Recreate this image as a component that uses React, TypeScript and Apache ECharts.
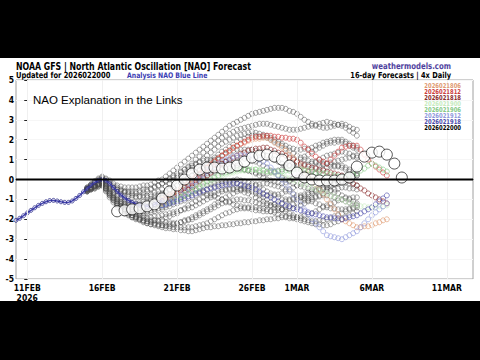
import React, { useEffect, useRef } from 'react';
import * as echarts from 'echarts';

// ---- axis ticks ----
const tickDays = [0, 5, 10, 15, 18, 23, 28];
const tickLabels = ['11FEB\n2026', '16FEB', '21FEB', '26FEB', '1MAR', '6MAR', '11MAR'];

// ---- analysis (6-hourly from day -0.75) ----
const analysisStart = -0.75;
const analysis = [
  -2.05, -1.95, -1.82, -1.68, -1.55, -1.42, -1.3, -1.2, -1.12, -1.06, -1.05, -1.08, -1.12, -1.15, -1.15, -1.08,
  -0.95, -0.8, -0.62, -0.45, -0.3, -0.15, -0.05, 0.0, -0.05, -0.2, -0.4, -0.6, -0.78, -0.92, -1.05, -1.15,
  -1.22, -1.28, -1.32, -1.35, -1.33, -1.25, -1.15, -1.05,
];

// ---- current run mean (12-hourly from day 6) ----
const meanStart = 6;
const meanRun = [
  -1.6, -1.55, -1.5, -1.45, -1.35, -1.25, -0.95, -0.6, -0.3, 0.0, 0.3, 0.5, 0.6, 0.6, 0.55, 0.6, 0.7, 0.9, 1.1,
  1.2, 1.25, 1.15, 1.0, 0.7, 0.35, 0.1, 0.0, -0.05, -0.05, -0.05, 0.0, 0.1, 0.65, 1.15, 1.35, 1.4, 1.25, 0.8, 0.1,
];

// ---- members (6-hourly from day 4) ----
const memberStart = 4;
const memberA = [
  -0.4, -0.25, -0.1, 0.0, 0.1, 0.05, -0.05, -0.2, -0.3, -0.35, -0.4, -0.4, -0.4, -0.4, -0.35, -0.3,
  -0.3, -0.25, -0.15, -0.05, 0.0, 0.15, 0.3, 0.45, 0.6, 0.75, 0.9, 1.05, 1.2, 1.35, 1.5, 1.65,
  1.8, 1.95, 2.1, 2.25, 2.4, 2.55, 2.7, 2.8, 2.9, 3.0, 3.1, 3.2, 3.3, 3.35, 3.4, 3.45,
  3.5, 3.55, 3.6, 3.6, 3.6, 3.55, 3.45, 3.4, 3.3, 3.15, 3.0, 2.9, 2.8, 2.7, 2.65, 2.6,
  2.6, 2.65, 2.7, 2.75, 2.8, 2.75, 2.65, 2.55, 2.5,
];
const memberB = [
  -0.45, -0.3, -0.15, -0.05, 0.0, -0.1, -0.25, -0.4, -0.5, -0.55, -0.6, -0.6, -0.6, -0.6, -0.55, -0.5,
  -0.5, -0.45, -0.35, -0.3, -0.2, -0.1, 0.0, 0.1, 0.2, 0.35, 0.5, 0.65, 0.8, 1.0, 1.15, 1.35,
  1.5, 1.65, 1.8, 1.95, 2.1, 2.2, 2.3, 2.4, 2.5, 2.55, 2.6, 2.65, 2.7, 2.75, 2.8, 2.8,
  2.8, 2.75, 2.7, 2.65, 2.6, 2.55, 2.5, 2.5, 2.5, 2.55, 2.6, 2.65, 2.7, 2.75, 2.8, 2.85,
  2.9, 2.85, 2.8, 2.75, 2.7, 2.6, 2.45, 2.35, 2.2,
];
const memberC = [
  -0.5, -0.4, -0.25, -0.15, -0.05, -0.2, -0.35, -0.5, -0.6, -0.7, -0.8, -0.85, -0.9, -0.9, -0.85, -0.8,
  -0.8, -0.75, -0.65, -0.6, -0.5, -0.35, -0.2, -0.05, 0.1, 0.2, 0.35, 0.5, 0.6, 0.75, 0.9, 1.05,
  1.2, 1.35, 1.5, 1.65, 1.8, 1.9, 2.0, 2.1, 2.2, 2.25, 2.3, 2.35, 2.4, 2.35, 2.3, 2.25,
  2.2, 2.1, 2.0, 1.9, 1.8, 1.7, 1.6, 1.55, 1.5, 1.5, 1.55, 1.55, 1.6, 1.7, 1.75, 1.85,
  1.9, 1.95, 2.0, 2.0, 2.0, 1.9, 1.8, 1.7, 1.6,
];
const memberD = [
  -0.5, -0.4, -0.3, -0.2, -0.1, -0.3, -0.45, -0.65, -0.8, -0.9, -1.0, -1.1, -1.2, -1.2, -1.15, -1.1,
  -1.1, -1.0, -0.95, -0.85, -0.8, -0.65, -0.55, -0.4, -0.3, -0.15, -0.05, 0.1, 0.2, 0.35, 0.45, 0.6,
  0.7, 0.85, 0.95, 1.1, 1.2, 1.3, 1.35, 1.45, 1.5, 1.5, 1.5, 1.5, 1.5, 1.45, 1.35, 1.3,
  1.2, 1.1, 1.0, 0.9, 0.8, 0.75, 0.7, 0.65, 0.6, 0.65, 0.7, 0.75, 0.8, 0.9, 1.0, 1.1,
  1.2, 1.25, 1.3, 1.35, 1.4, 1.35, 1.3, 1.2, 1.1,
];
const memberE = [
  -0.45, -0.35, -0.3, -0.2, -0.15, -0.35, -0.6, -0.8, -1.0, -1.1, -1.2, -1.3, -1.4, -1.4, -1.4, -1.4,
  -1.4, -1.35, -1.3, -1.25, -1.2, -1.1, -1.0, -0.9, -0.8, -0.65, -0.55, -0.4, -0.3, -0.15, -0.05, 0.1,
  0.2, 0.3, 0.35, 0.45, 0.5, 0.55, 0.55, 0.6, 0.6, 0.55, 0.5, 0.45, 0.4, 0.3, 0.2, 0.1,
  0.0, -0.05, -0.1, -0.15, -0.2, -0.15, -0.05, 0.05, 0.1, 0.2, 0.3, 0.4, 0.5, 0.6, 0.7, 0.75,
  0.8, 0.75, 0.7, 0.65, 0.6, 0.5, 0.4, 0.3, 0.2,
];
const memberF = [
  -0.5, -0.45, -0.35, -0.25, -0.2, -0.45, -0.7, -0.9, -1.1, -1.25, -1.4, -1.5, -1.6, -1.65, -1.7, -1.7,
  -1.7, -1.65, -1.6, -1.55, -1.5, -1.4, -1.35, -1.25, -1.2, -1.1, -1.05, -0.95, -0.9, -0.8, -0.7, -0.6,
  -0.5, -0.4, -0.35, -0.25, -0.2, -0.15, -0.1, -0.05, 0.0, -0.05, -0.1, -0.15, -0.2, -0.3, -0.4, -0.5,
  -0.6, -0.7, -0.8, -0.9, -1.0, -1.0, -1.0, -1.0, -1.0, -0.9, -0.85, -0.75, -0.7, -0.6, -0.5, -0.4,
  -0.3, -0.25, -0.2, -0.15, -0.1, -0.15, -0.2, -0.25, -0.3,
];
const memberG = [
  -0.55, -0.45, -0.35, -0.25, -0.2, -0.45, -0.75, -1.0, -1.2, -1.35, -1.5, -1.6, -1.7, -1.75, -1.8, -1.85,
  -1.9, -1.9, -1.85, -1.85, -1.8, -1.75, -1.7, -1.65, -1.6, -1.55, -1.5, -1.45, -1.4, -1.3, -1.2, -1.1,
  -1.0, -0.9, -0.8, -0.7, -0.6, -0.55, -0.5, -0.5, -0.5, -0.55, -0.65, -0.7, -0.8, -0.9, -1.0, -1.1,
  -1.2, -1.3, -1.4, -1.45, -1.5, -1.5, -1.45, -1.45, -1.4, -1.3, -1.2, -1.1, -1.0, -0.9, -0.8, -0.7,
  -0.6, -0.55, -0.5, -0.45, -0.4, -0.4, -0.45, -0.45, -0.5,
];
const memberH = [
  -0.6, -0.5, -0.45, -0.35, -0.3, -0.55, -0.8, -1.05, -1.3, -1.45, -1.55, -1.7, -1.8, -1.85, -1.9, -1.95,
  -2.0, -2.05, -2.05, -2.1, -2.1, -2.15, -2.15, -2.2, -2.2, -2.15, -2.1, -2.05, -2.0, -1.9, -1.8, -1.7,
  -1.6, -1.5, -1.4, -1.3, -1.2, -1.15, -1.1, -1.05, -1.0, -1.0, -1.05, -1.05, -1.1, -1.15, -1.2, -1.25,
  -1.3, -1.3, -1.25, -1.25, -1.2, -1.1, -1.05, -0.95, -0.9, -0.8, -0.75, -0.65, -0.6, -0.55, -0.55, -0.5,
  -0.5, -0.55, -0.65, -0.7, -0.8, -0.9, -1.0, -1.1, -1.2,
];
const memberI = [
  -0.6, -0.5, -0.45, -0.35, -0.3, -0.6, -0.9, -1.15, -1.4, -1.55, -1.7, -1.8, -1.9, -1.95, -2.0, -2.05,
  -2.1, -2.15, -2.2, -2.25, -2.3, -2.35, -2.35, -2.4, -2.4, -2.4, -2.4, -2.4, -2.4, -2.35, -2.3, -2.25,
  -2.2, -2.1, -2.0, -1.9, -1.8, -1.7, -1.65, -1.55, -1.5, -1.45, -1.45, -1.4, -1.4, -1.4, -1.45, -1.45,
  -1.5, -1.6, -1.65, -1.75, -1.8, -1.85, -1.85, -1.9, -1.9, -1.85, -1.8, -1.75, -1.7, -1.6, -1.5, -1.4,
  -1.3, -1.2, -1.15, -1.05, -1.0, -0.95, -0.95, -0.9, -0.9,
];
const memberJ = [
  -0.55, -0.45, -0.35, -0.25, -0.2, -0.45, -0.7, -0.95, -1.2, -1.35, -1.5, -1.65, -1.8, -1.9, -2.0, -2.1,
  -2.2, -2.25, -2.3, -2.35, -2.4, -2.45, -2.45, -2.5, -2.5, -2.55, -2.55, -2.6, -2.6, -2.55, -2.5, -2.45,
  -2.4, -2.4, -2.35, -2.35, -2.3, -2.3, -2.25, -2.25, -2.2, -2.2, -2.15, -2.15, -2.1, -2.1, -2.05, -2.05,
  -2.0, -2.0, -1.95, -1.95, -1.9, -1.9, -1.95, -1.95, -2.0, -2.05, -2.1, -2.15, -2.2, -2.25, -2.25, -2.3,
  -2.3, -2.25, -2.15, -2.1, -2.0, -1.9, -1.8, -1.7, -1.6,
];
const memberK = [
  -0.5, -0.4, -0.3, -0.2, -0.1, -0.3, -0.5, -0.7, -0.9, -1.0, -1.1, -1.2, -1.3, -1.3, -1.25, -1.25,
  -1.2, -1.1, -1.05, -0.95, -0.9, -0.8, -0.75, -0.65, -0.6, -0.55, -0.55, -0.5, -0.5, -0.55, -0.6, -0.65,
  -0.7, -0.8, -0.85, -0.95, -1.0, -1.1, -1.15, -1.25, -1.3, -1.35, -1.4, -1.45, -1.5, -1.55, -1.55, -1.6,
  -1.6, -1.6, -1.55, -1.55, -1.5, -1.4, -1.35, -1.25, -1.2, -1.1, -1.05, -0.95, -0.9, -0.85, -0.85, -0.8,
  -0.8, -0.85, -0.9, -0.95, -1.0, -1.1, -1.15, -1.25, -1.3,
];
const memberL = [
  -0.4, -0.25, -0.1, 0.05, 0.15, 0.0, -0.15, -0.3, -0.4, -0.5, -0.6, -0.65, -0.7, -0.7, -0.65, -0.65,
  -0.6, -0.5, -0.4, -0.3, -0.2, -0.05, 0.05, 0.2, 0.3, 0.4, 0.5, 0.6, 0.7, 0.8, 0.85, 0.95,
  1.0, 1.0, 1.0, 1.0, 1.0, 0.9, 0.85, 0.75, 0.7, 0.6, 0.5, 0.45, 0.4, 0.35, 0.35, 0.3,
  0.3, 0.35, 0.4, 0.45, 0.5, 0.6, 0.7, 0.8, 0.9, 1.0, 1.15, 1.25, 1.4, 1.5, 1.6, 1.7,
  1.8, 1.85, 1.85, 1.9, 1.9, 1.8, 1.7, 1.6, 1.5,
];
const memberN = [
  -0.5, -0.4, -0.3, -0.2, -0.1, -0.35, -0.6, -0.8, -1.0, -1.15, -1.25, -1.4, -1.5, -1.55, -1.55, -1.6,
  -1.6, -1.55, -1.5, -1.45, -1.4, -1.3, -1.2, -1.1, -1.0, -0.9, -0.8, -0.7, -0.6, -0.5, -0.45, -0.35,
  -0.3, -0.25, -0.2, -0.15, -0.1, -0.1, -0.15, -0.15, -0.2, -0.3, -0.35, -0.45, -0.5, -0.6, -0.7, -0.75,
  -0.8, -0.8, -0.75, -0.75, -0.7, -0.6, -0.5, -0.4, -0.3, -0.2, -0.05, 0.1, 0.2, 0.3, 0.4, 0.5,
  0.6, 0.65, 0.65, 0.7, 0.7, 0.6, 0.5, 0.4, 0.3,
];
const memberO = [
  -0.45, -0.3, -0.2, -0.05, 0.05, -0.1, -0.25, -0.4, -0.5, -0.6, -0.65, -0.75, -0.8, -0.85, -0.85, -0.9,
  -0.9, -0.85, -0.8, -0.75, -0.7, -0.6, -0.5, -0.4, -0.3, -0.15, -0.05, 0.1, 0.2, 0.35, 0.5, 0.65,
  0.8, 0.95, 1.1, 1.25, 1.4, 1.5, 1.65, 1.75, 1.9, 2.0, 2.05, 2.15, 2.2, 2.2, 2.15, 2.15,
  2.1, 2.0, 1.9, 1.8, 1.7, 1.55, 1.45, 1.3, 1.2, 1.1, 1.0, 0.95, 0.9, 0.85, 0.85, 0.8,
  0.8, 0.85, 0.9, 0.95, 1.0, 1.05, 1.1, 1.15, 1.2,
];
const memberP = [
  -0.6, -0.5, -0.4, -0.3, -0.25, -0.5, -0.8, -1.05, -1.3, -1.45, -1.6, -1.75, -1.9, -2.0, -2.05, -2.15,
  -2.2, -2.25, -2.25, -2.3, -2.3, -2.3, -2.25, -2.25, -2.2, -2.15, -2.05, -2.0, -1.9, -1.8, -1.7, -1.6,
  -1.5, -1.4, -1.25, -1.15, -1.0, -0.9, -0.8, -0.7, -0.6, -0.5, -0.45, -0.35, -0.3, -0.25, -0.25, -0.2,
  -0.2, -0.25, -0.3, -0.35, -0.4, -0.5, -0.6, -0.7, -0.8, -0.9, -0.95, -1.05, -1.1, -1.2, -1.25, -1.35,
  -1.4, -1.45, -1.45, -1.5, -1.5, -1.5, -1.45, -1.45, -1.4,
];
const memberQ = [
  -0.5, -0.4, -0.3, -0.25, -0.15, -0.4, -0.65, -0.9, -1.1, -1.2, -1.3, -1.4, -1.5, -1.5, -1.45, -1.45,
  -1.4, -1.35, -1.25, -1.2, -1.1, -1.0, -0.9, -0.8, -0.7, -0.55, -0.45, -0.3, -0.2, -0.05, 0.05, 0.2,
  0.3, 0.45, 0.55, 0.7, 0.8, 0.9, 0.95, 1.05, 1.1, 1.1, 1.05, 1.05, 1.0, 0.9, 0.8, 0.7,
  0.6, 0.45, 0.35, 0.2, 0.1, 0.0, -0.1, -0.2, -0.3, -0.35, -0.4, -0.45, -0.5, -0.5, -0.45, -0.45,
  -0.4, -0.35, -0.25, -0.2, -0.1, 0.0, 0.05, 0.15, 0.2,
];
const memberR = [
  -0.55, -0.45, -0.35, -0.25, -0.2, -0.45, -0.7, -0.95, -1.2, -1.35, -1.5, -1.65, -1.8, -1.9, -1.95, -2.05,
  -2.1, -2.1, -2.05, -2.05, -2.0, -1.9, -1.85, -1.75, -1.7, -1.55, -1.45, -1.3, -1.2, -1.1, -1.0, -0.9,
  -0.8, -0.7, -0.65, -0.55, -0.5, -0.5, -0.45, -0.45, -0.4, -0.45, -0.5, -0.55, -0.6, -0.7, -0.8, -0.9,
  -1.0, -1.15, -1.25, -1.4, -1.5, -1.6, -1.7, -1.8, -1.9, -1.95, -2.0, -2.05, -2.1, -2.1, -2.05, -2.05,
  -2.0, -1.95, -1.85, -1.8, -1.7, -1.6, -1.5, -1.4, -1.3,
];
const members = [
  memberA, memberB, memberC, memberD, memberE, memberF, memberG, memberH, memberI,
  memberJ, memberK, memberL, memberN, memberO, memberP, memberQ, memberR,
];

// ---- previous runs (6-hourly from day 9) ----
const runStart = 9;
const run021806 = [
  -1.0, -0.9, -0.8, -0.7, -0.6, -0.45, -0.3, -0.15, 0.0, 0.15, 0.3, 0.45, 0.6, 0.75, 0.9, 1.05,
  1.2, 1.35, 1.45, 1.6, 1.7, 1.8, 1.85, 1.95, 2.0, 2.05, 2.05, 2.1, 2.1, 2.0, 1.85, 1.75,
  1.6, 1.45, 1.25, 1.1, 0.9, 0.7, 0.45, 0.25, 0.0, -0.25, -0.5, -0.75, -1.0, -1.25, -1.5, -1.75,
  -2.0, -2.1, -2.2, -2.3, -2.4, -2.4, -2.35, -2.35, -2.3, -2.2, -2.15, -2.05, -2.0,
];
const run021812 = [
  -1.1, -1.0, -0.9, -0.8, -0.7, -0.55, -0.4, -0.25, -0.1, 0.1, 0.25, 0.45, 0.6, 0.75, 0.9, 1.05,
  1.2, 1.35, 1.45, 1.6, 1.7, 1.8, 1.9, 2.0, 2.1, 2.15, 2.15, 2.2, 2.2, 2.2, 2.15, 2.15,
  2.1, 2.1, 2.05, 2.05, 2.0, 1.85, 1.65, 1.5, 1.3, 1.15, 1.0, 0.9, 0.8, 1.0, 1.2, 1.4,
  1.6, 1.65, 1.7, 1.7, 1.7, 1.5, 1.25, 1.0, 0.8, 0.65, 0.5, 0.35, 0.2,
];
const run021818 = [
  -1.2, -1.1, -1.05, -0.95, -0.9, -0.75, -0.65, -0.5, -0.4, -0.25, -0.1, 0.05, 0.2, 0.35, 0.5, 0.65,
  0.8, 0.9, 1.0, 1.1, 1.2, 1.3, 1.35, 1.45, 1.5, 1.55, 1.55, 1.6, 1.6, 1.5, 1.45, 1.35,
  1.3, 1.2, 1.1, 1.0, 0.9, 0.8, 0.75, 0.65, 0.6, 0.55, 0.5, 0.45, 0.4, 0.35, 0.3, 0.25,
  0.2, 0.05, -0.05, -0.2, -0.3, -0.45, -0.55, -0.7, -0.8, -0.9, -1.0, -1.1, -1.2,
];
const run021900 = [
  -1.2, -1.1, -1.05, -0.95, -0.9, -0.8, -0.75, -0.65, -0.6, -0.5, -0.4, -0.3, -0.2, -0.1, 0.0, 0.1,
  0.2, 0.25, 0.3, 0.35, 0.4, 0.45, 0.45, 0.5, 0.5, 0.5, 0.45, 0.45, 0.4, 0.35, 0.3, 0.25,
  0.2, 0.1, 0.05, -0.05, -0.1, -0.2, -0.25, -0.35, -0.4, -0.5, -0.55, -0.65, -0.7, -0.8, -0.85, -0.95,
  -1.0, -1.1, -1.15, -1.25, -1.3, -1.35, -1.35, -1.4, -1.4, -1.4, -1.35, -1.35, -1.3,
];
const run021906 = [
  -1.3, -1.2, -1.15, -1.05, -1.0, -0.9, -0.8, -0.7, -0.6, -0.45, -0.35, -0.2, -0.1, 0.0, 0.1, 0.2,
  0.3, 0.35, 0.4, 0.45, 0.5, 0.5, 0.5, 0.5, 0.5, 0.5, 0.45, 0.45, 0.4, 0.4, 0.4, 0.4,
  0.4, 0.45, 0.45, 0.5, 0.5, 0.5, 0.45, 0.45, 0.4, 0.35, 0.35, 0.3, 0.3, 0.25, 0.2, 0.15,
  0.1, 0.15, 0.2, 0.25, 0.3, 0.45, 0.55, 0.7, 0.8, 0.7, 0.6, 0.5, 0.4,
];
const run021912 = [
  -1.3, -1.2, -1.1, -1.0, -0.9, -0.75, -0.6, -0.45, -0.3, -0.1, 0.05, 0.25, 0.4, 0.55, 0.65, 0.8,
  0.9, 1.0, 1.05, 1.15, 1.2, 1.2, 1.2, 1.2, 1.2, 1.1, 1.0, 0.9, 0.8, 0.6, 0.4, 0.2,
  0.0, -0.25, -0.5, -0.75, -1.0, -1.25, -1.5, -1.75, -2.0, -2.2, -2.4, -2.6, -2.8, -2.85, -2.9, -2.95,
  -3.0, -2.9, -2.8, -2.7, -2.6, -2.4, -2.2, -2.0, -1.8, -1.65, -1.5, -1.35, -1.2,
];
const run021918 = [
  -1.3, -1.25, -1.2, -1.15, -1.1, -1.0, -0.95, -0.85, -0.8, -0.7, -0.65, -0.55, -0.5, -0.45, -0.4, -0.35,
  -0.3, -0.25, -0.25, -0.2, -0.2, -0.25, -0.3, -0.35, -0.4, -0.5, -0.6, -0.7, -0.8, -0.9, -1.0, -1.1,
  -1.2, -1.3, -1.35, -1.45, -1.5, -1.55, -1.6, -1.65, -1.7, -1.75, -1.8, -1.85, -1.9, -1.9, -1.95, -1.95,
  -2.0, -1.95, -1.9, -1.85, -1.8, -1.7, -1.6, -1.5, -1.4, -1.25, -1.1, -0.95, -0.8,
];
const previousRuns = [run021806, run021812, run021818, run021900, run021906, run021912, run021918];
const runLabels = ['2026021806', '2026021812', '2026021818', '2026021900', '2026021906', '2026021912', '2026021918', '2026022000'];
const runColors = ['#e09a72', '#cc3c3c', '#8a2a2a', '#c6ebbe', '#86c986', '#8f99dc', '#4b4bab', '#000000'];

const toPoints = (vals: number[], start: number, step: number) => vals.map((v, i) => [start + i * step, v]);

const COND = '"DejaVu Sans Condensed", "Liberation Sans Narrow", "DejaVu Sans", sans-serif';

export default function App() {
  const ref = useRef<HTMLDivElement>(null);
  useEffect(() => {
    if (!ref.current) return;
    const chart = echarts.init(ref.current, undefined, { renderer: 'svg' });
    const series: any[] = [];
    series.push({
      type: 'scatter', data: [], silent: true, z: 1,
      markLine: {
        silent: true, symbol: 'none', label: { show: false },
        lineStyle: { color: '#f0f0f0', width: 1, type: 'solid' },
        data: tickDays.map((d) => ({ xAxis: d })),
      },
    });
    members.forEach((m, i) => {
      series.push({
        type: 'scatter', name: 'member' + i, silent: true, z: 2,
        symbol: 'circle', symbolSize: 5,
        itemStyle: { color: 'rgba(255,255,255,0)', borderColor: '#474747', borderWidth: 0.6 },
        data: toPoints(m, memberStart, 0.25),
      });
    });
    previousRuns.forEach((r, i) => {
      series.push({
        type: 'scatter', name: runLabels[i], silent: true, z: 3,
        symbol: 'circle', symbolSize: 5,
        itemStyle: { color: 'rgba(255,255,255,0)', borderColor: runColors[i], borderWidth: 0.8 },
        data: toPoints(r, runStart, 0.25),
      });
    });
    series.push({
      type: 'line', name: 'analysis', silent: true, z: 4,
      symbol: 'circle', symbolSize: 4, showSymbol: true,
      lineStyle: { color: '#4646b4', width: 1.5 },
      itemStyle: { color: 'rgba(255,255,255,0)', borderColor: '#2c2c8c', borderWidth: 0.8 },
      data: toPoints(analysis, analysisStart, 0.25),
    });
    series.push({
      type: 'scatter', name: runLabels[7], silent: true, z: 5,
      symbol: 'circle', symbolSize: 11,
      itemStyle: { color: '#ffffff', borderColor: '#111111', borderWidth: 0.9 },
      data: toPoints(meanRun, meanStart, 0.5),
    });
    series.push({
      type: 'line', name: 'zero', silent: true, z: 6, symbol: 'none',
      lineStyle: { color: '#000000', width: 2 },
      data: [[-0.75, 0], [29.75, 0]],
    });

    const graphic: any[] = [
      { type: 'rect', shape: { x: 0, y: 0, width: 480, height: 58 }, style: { fill: '#000' }, silent: true },
      { type: 'rect', shape: { x: 0, y: 301, width: 480, height: 59 }, style: { fill: '#000' }, silent: true },
      { type: 'text', x: 16, y: 67, scaleX: 0.8, z: 100, style: { text: 'NOAA GFS | North Atlantic Oscillation [NAO] Forecast', font: 'bold 9.8px "DejaVu Sans"', fill: '#000', textVerticalAlign: 'middle' } },
      { type: 'text', x: 16, y: 75.5, scaleX: 0.8, z: 100, style: { text: 'Updated for 2026022000', font: 'bold 8.4px "DejaVu Sans"', fill: '#000', textVerticalAlign: 'middle' } },
      { type: 'text', x: 127, y: 75.5, scaleX: 0.8, z: 100, style: { text: 'Analysis NAO Blue Line', font: 'bold 7.7px "DejaVu Sans"', fill: '#3b3bb2', textVerticalAlign: 'middle' } },
      { type: 'text', x: 451, y: 66, scaleX: 0.8, z: 100, style: { text: 'weathermodels.com', font: 'bold 8.7px "DejaVu Sans"', fill: '#4f439e', textAlign: 'right', textVerticalAlign: 'middle' } },
      { type: 'text', x: 451, y: 75.5, scaleX: 0.8, z: 100, style: { text: '16-day Forecasts | 4x Daily', font: 'bold 8.3px "DejaVu Sans"', fill: '#000', textAlign: 'right', textVerticalAlign: 'middle' } },
      { type: 'text', x: 33, y: 100, z: 100, style: { text: 'NAO Explanation in the Links', font: '11.5px "Liberation Sans"', fill: '#000', textVerticalAlign: 'middle' } },
    ];
    runLabels.forEach((lab, i) => {
      graphic.push({
        type: 'text', x: 461, y: 85.7 + i * 6, scaleX: 0.8, z: 100,
        style: { text: lab, font: 'bold 6.6px "DejaVu Sans"', fill: runColors[i], textAlign: 'right', textVerticalAlign: 'middle' },
      });
    });

    chart.setOption({
      animation: false,
      backgroundColor: '#ffffff',
      grid: { left: 16, right: 7, top: 80, bottom: 81, show: true, borderColor: '#a0a0a0', borderWidth: 1, backgroundColor: 'transparent' },
      xAxis: {
        type: 'value', min: -0.75, max: 29.75,
        axisLine: { show: true, lineStyle: { color: '#222', width: 1 } },
        axisTick: { show: true, inside: true, length: 3, customValues: tickDays, lineStyle: { color: '#222' } },
        splitLine: { show: false },
        axisLabel: {
          customValues: tickDays, margin: 4, color: '#000', fontSize: 8.5, fontWeight: 'bold', fontFamily: COND, lineHeight: 10,
          formatter: (v: number) => { const k = tickDays.indexOf(Math.round(v)); return k >= 0 ? tickLabels[k] : ''; },
        },
      },
      yAxis: {
        type: 'value', min: -5, max: 5, interval: 1,
        axisLine: { show: true, lineStyle: { color: '#222', width: 1 } },
        axisTick: { show: true, length: 3, lineStyle: { color: '#222' } },
        splitLine: { show: true, lineStyle: { color: '#f6f6f6', width: 1 } },
        axisLabel: { margin: 2, color: '#000', fontSize: 8.5, fontWeight: 'bold', fontFamily: COND },
      },
      graphic,
      series,
    });
    return () => chart.dispose();
  }, []);
  return <div ref={ref} style={{ position: 'fixed', left: 0, top: 0, width: 480, height: 360 }} />;
}
